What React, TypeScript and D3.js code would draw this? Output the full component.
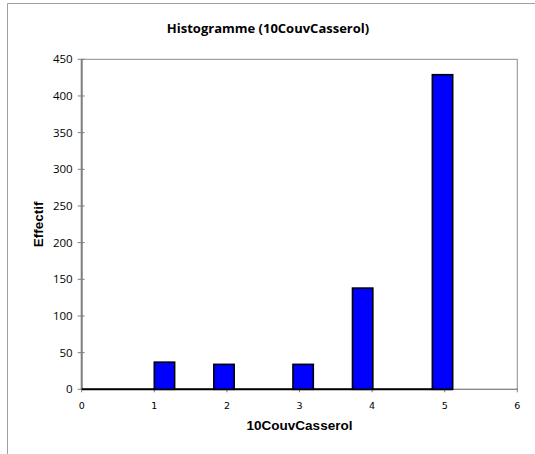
import React from "react";
import * as d3 from "d3";

const binLower = [1.0, 1.82, 2.91, 3.73, 4.83];
const binUpper = [1.28, 2.1, 3.19, 4.01, 5.11];
const counts = [37, 34, 34, 138, 429];
const xTicks = [0, 1, 2, 3, 4, 5, 6];
const yTicks = [0, 50, 100, 150, 200, 250, 300, 350, 400, 450];
const title = "Histogramme (10CouvCasserol)";
const xTitle = "10CouvCasserol";
const yTitle = "Effectif";

export default function App() {
  const W = 535, H = 454;
  const left = 81.7, right = 517.3, top = 59.3, bottom = 389.3;
  const x = d3.scaleLinear().domain([0, 6]).range([left, right]);
  const y = d3.scaleLinear().domain([0, 450]).range([bottom, top]);
  const baseEnd = d3.max(binUpper) as number;
  return (
    <svg width={W} height={H} style={{ position: "absolute", left: 0, top: 0, background: "#fff" }}>
      {/* outer frame */}
      <line x1={7.5} y1={3.5} x2={535} y2={3.5} stroke="#a0a0a0" strokeWidth={1} />
      <line x1={7.5} y1={3.5} x2={7.5} y2={454} stroke="#a0a0a0" strokeWidth={1} />
      <text x={268} y={33} textAnchor="middle" fontFamily="'Open Sans', sans-serif" fontWeight="bold" fontSize={13}>{title}</text>
      {/* plot border */}
      <rect x={left} y={top} width={right - left} height={bottom - top} fill="none" stroke="#8c8c8c" strokeWidth={1} />
      {/* y axis */}
      <line x1={left} y1={top} x2={left} y2={bottom} stroke="#808080" strokeWidth={2} />
      {yTicks.map((t) => (
        <g key={t}>
          <line x1={left - 4} x2={left + 3} y1={y(t)} y2={y(t)} stroke="#808080" strokeWidth={1} />
          <text x={left - 9} y={y(t)} dy="0.35em" textAnchor="end" fontFamily="'Open Sans', sans-serif" fontSize={11.5} fill="#000">{t}</text>
        </g>
      ))}
      {/* x axis ticks */}
      {xTicks.map((t) => (
        <g key={t}>
          <line x1={x(t)} x2={x(t)} y1={bottom - 1} y2={bottom + 3} stroke="#808080" strokeWidth={1} />
          <text x={x(t)} y={406} dy="0.35em" textAnchor="middle" fontFamily="'DejaVu Sans', sans-serif" fontSize={9.5} fill="#000">{t}</text>
        </g>
      ))}
      <line x1={x(0)} x2={x(6)} y1={bottom} y2={bottom} stroke="#808080" strokeWidth={1} />
      {/* zero-height bins baseline */}
      <line x1={x(0)} x2={x(baseEnd)} y1={y(0)} y2={y(0)} stroke="#000" strokeWidth={2} />
      {/* bars */}
      {counts.map((c, i) => (
        <rect key={i} x={x(binLower[i])} y={y(c)} width={x(binUpper[i]) - x(binLower[i])} height={y(0) - y(c)}
          fill="#0000ff" stroke="#000" strokeWidth={1.6} />
      ))}
      <text x={(left + right) / 2} y={430} textAnchor="middle" fontFamily="'Liberation Sans', Arial, sans-serif" fontWeight="bold" fontSize={13.5}>{xTitle}</text>
      <text transform={`translate(43,${(top + bottom) / 2}) rotate(-90)`} textAnchor="middle" fontFamily="'Liberation Sans', Arial, sans-serif" fontWeight="bold" fontSize={13.5}>{yTitle}</text>
    </svg>
  );
}
